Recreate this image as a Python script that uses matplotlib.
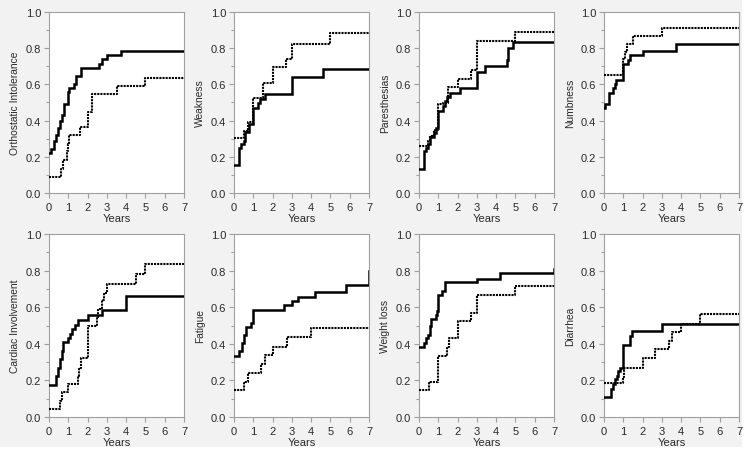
import matplotlib
matplotlib.use("Agg")
import matplotlib.pyplot as plt
from matplotlib.patches import Rectangle
from matplotlib.ticker import MultipleLocator, FormatStrFormatter

plt.rcParams['font.family'] = ['Liberation Sans', 'DejaVu Sans']

titles = ["Orthostatic Intolerance", "Weakness", "Paresthesias", "Numbness",
          "Cardiac Involvement", "Fatigue", "Weight loss", "Diarrhea"]

# Orthostatic Intolerance
ortho_solid_t = [0, 0.1, 0.25, 0.35, 0.45, 0.55, 0.65, 0.8, 1.0, 1.05, 1.3, 1.4, 1.65, 2.6, 2.75, 3.0, 3.75, 7]
ortho_solid_p = [0.22, 0.245, 0.29, 0.32, 0.36, 0.40, 0.43, 0.49, 0.56, 0.58, 0.60, 0.645, 0.69, 0.715, 0.74, 0.765, 0.785, 0.785]
ortho_dot_t = [0, 0.6, 0.7, 0.95, 1.0, 1.05, 1.6, 2.0, 2.25, 3.5, 5.0, 7]
ortho_dot_p = [0.09, 0.13, 0.18, 0.23, 0.27, 0.32, 0.365, 0.45, 0.545, 0.59, 0.635, 0.635]

# Weakness
weak_solid_t = [0, 0.25, 0.35, 0.5, 0.55, 0.8, 1.0, 1.25, 1.35, 1.6, 3.0, 4.6, 7]
weak_solid_p = [0.155, 0.25, 0.27, 0.29, 0.335, 0.38, 0.47, 0.50, 0.52, 0.545, 0.64, 0.685, 0.685]
weak_dot_t = [0, 0.5, 0.75, 1.0, 1.5, 2.0, 2.7, 3.0, 5.0, 7]
weak_dot_p = [0.305, 0.345, 0.39, 0.525, 0.61, 0.695, 0.74, 0.825, 0.885, 0.885]

# Paresthesias
par_solid_t = [0, 0.25, 0.35, 0.45, 0.55, 0.8, 0.9, 1.0, 1.25, 1.35, 1.45, 1.6, 2.1, 3.0, 3.4, 4.55, 4.6, 4.85, 7]
par_solid_p = [0.135, 0.23, 0.25, 0.27, 0.31, 0.33, 0.36, 0.455, 0.48, 0.51, 0.53, 0.555, 0.58, 0.67, 0.70, 0.735, 0.80, 0.835, 0.835]
par_dot_t = [0, 0.45, 0.55, 0.8, 1.0, 1.25, 1.5, 2.0, 2.7, 3.0, 5.0, 7]
par_dot_p = [0.26, 0.29, 0.315, 0.35, 0.49, 0.50, 0.585, 0.63, 0.68, 0.84, 0.89, 0.89]

# Numbness
numb_solid_t = [0, 0.05, 0.25, 0.45, 0.55, 0.6, 1.0, 1.25, 1.35, 2.0, 3.75, 7]
numb_solid_p = [0.47, 0.49, 0.555, 0.58, 0.60, 0.625, 0.71, 0.735, 0.76, 0.785, 0.825, 0.825]
numb_dot_t = [0, 1.0, 1.1, 1.2, 1.5, 3.0, 7]
numb_dot_p = [0.65, 0.74, 0.78, 0.825, 0.87, 0.91, 0.91]

# Cardiac Involvement
card_solid_t = [0, 0.35, 0.45, 0.55, 0.65, 0.7, 1.0, 1.1, 1.2, 1.35, 1.5, 2.0, 2.75, 4.0, 7]
card_solid_p = [0.175, 0.225, 0.27, 0.315, 0.36, 0.41, 0.43, 0.455, 0.48, 0.505, 0.53, 0.555, 0.585, 0.66, 0.66]
card_dot_t = [0, 0.55, 0.65, 1.0, 1.5, 1.55, 1.65, 2.0, 2.5, 2.55, 2.75, 2.85, 3.0, 4.5, 5.0, 7]
card_dot_p = [0.045, 0.09, 0.135, 0.18, 0.225, 0.27, 0.32, 0.50, 0.545, 0.59, 0.64, 0.68, 0.725, 0.78, 0.835, 0.835]

# Fatigue
fat_solid_t = [0, 0.25, 0.4, 0.5, 0.6, 0.9, 1.0, 2.6, 3.0, 3.3, 4.2, 5.8, 7.0, 7.0]
fat_solid_p = [0.335, 0.36, 0.405, 0.45, 0.49, 0.515, 0.585, 0.61, 0.635, 0.655, 0.685, 0.72, 0.72, 0.80]
fat_dot_t = [0, 0.5, 0.75, 1.4, 1.6, 2.0, 2.75, 4.0, 7]
fat_dot_p = [0.145, 0.19, 0.24, 0.29, 0.34, 0.385, 0.435, 0.485, 0.485]

# Weight loss
wl_solid_t = [0, 0.25, 0.35, 0.45, 0.55, 0.6, 0.9, 0.95, 1.0, 1.2, 1.35, 3.0, 4.2, 7.0, 7.0]
wl_solid_p = [0.38, 0.405, 0.43, 0.45, 0.495, 0.535, 0.555, 0.58, 0.665, 0.69, 0.735, 0.755, 0.785, 0.785, 0.81]
wl_dot_t = [0, 0.5, 1.0, 1.45, 1.55, 2.0, 2.7, 3.0, 5.0, 7]
wl_dot_p = [0.145, 0.19, 0.335, 0.38, 0.43, 0.525, 0.57, 0.665, 0.715, 0.715]

# Diarrhea
diar_solid_t = [0, 0.35, 0.45, 0.55, 0.65, 0.75, 0.85, 1.0, 1.35, 1.45, 3.0, 7]
diar_solid_p = [0.11, 0.155, 0.18, 0.205, 0.225, 0.25, 0.27, 0.395, 0.445, 0.47, 0.51, 0.51]
diar_dot_t = [0, 1.0, 1.05, 2.0, 2.65, 3.35, 3.5, 4.0, 5.0, 7]
diar_dot_p = [0.185, 0.22, 0.27, 0.32, 0.37, 0.415, 0.465, 0.51, 0.565, 0.565]

solid_series = [(ortho_solid_t, ortho_solid_p), (weak_solid_t, weak_solid_p),
                (par_solid_t, par_solid_p), (numb_solid_t, numb_solid_p),
                (card_solid_t, card_solid_p), (fat_solid_t, fat_solid_p),
                (wl_solid_t, wl_solid_p), (diar_solid_t, diar_solid_p)]
dot_series = [(ortho_dot_t, ortho_dot_p), (weak_dot_t, weak_dot_p),
              (par_dot_t, par_dot_p), (numb_dot_t, numb_dot_p),
              (card_dot_t, card_dot_p), (fat_dot_t, fat_dot_p),
              (wl_dot_t, wl_dot_p), (diar_dot_t, diar_dot_p)]

W, H = 751, 456
fig = plt.figure(figsize=(W / 100, H / 100), dpi=100, facecolor='white')
bg = Rectangle((0, 1 - 448 / H), 742 / W, 448 / H, transform=fig.transFigure,
               facecolor='#f2f2f2', edgecolor='none', zorder=-10)
fig.patches.append(bg)

col_left = [49, 234, 419, 604]
row_box = [(13, 194), (235, 418)]
axw = 135
txtc = '#2a2a2a'
for i in range(8):
    r, c = divmod(i, 4)
    top, bot = row_box[r]
    ax = fig.add_axes([col_left[c] / W, 1 - bot / H, axw / W, (bot - top) / H])
    ax.set_zorder(5)
    ax.set_facecolor('white')
    st, sp = solid_series[i]
    dt, dp = dot_series[i]
    ax.step(dt, dp, where='post', color='black', lw=1.5, linestyle=(0, (1, 0.5)), zorder=3)
    ax.step(st, sp, where='post', color='black', lw=1.8, zorder=4, solid_joinstyle='miter')
    ax.set_xlim(0, 7)
    ax.set_ylim(0, 1.0)
    ax.xaxis.set_major_locator(MultipleLocator(1))
    ax.yaxis.set_major_locator(MultipleLocator(0.2))
    ax.yaxis.set_minor_locator(MultipleLocator(0.1))
    ax.yaxis.set_major_formatter(FormatStrFormatter('%.1f'))
    for s in ax.spines.values():
        s.set_color('#a0a0a0')
        s.set_linewidth(0.8)
    ax.tick_params(which='both', direction='out', color='#a0a0a0', labelcolor=txtc,
                   labelsize=8, width=0.8)
    ax.tick_params(which='major', length=3.5)
    ax.tick_params(which='minor', length=2)
    ax.tick_params(axis='y', pad=2)
    ax.tick_params(axis='x', pad=3)
    ax.set_xlabel('Years', fontsize=8, color=txtc, labelpad=0.5)
    ax.set_ylabel(titles[i], fontsize=7.4, color=txtc, labelpad=4)

fig.savefig('out.png', dpi=100, facecolor=fig.get_facecolor())
